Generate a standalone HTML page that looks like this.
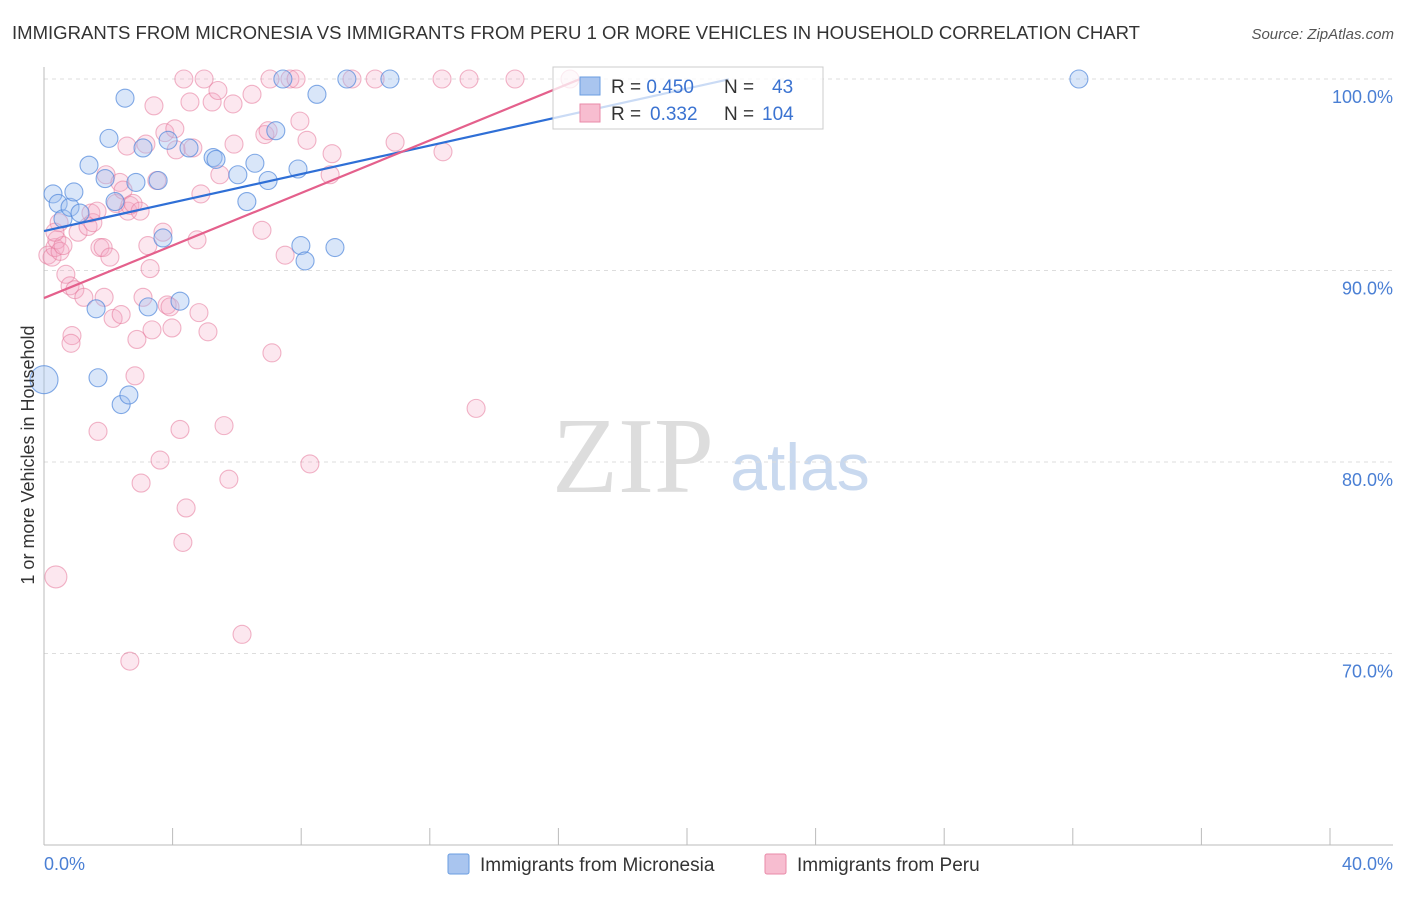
<!DOCTYPE html>
<html><head><meta charset="utf-8"><style>
body{margin:0;background:#fff;font-family:"Liberation Sans",sans-serif;}
svg text{font-family:"Liberation Sans",sans-serif;}
</style></head><body>
<svg id="chart" width="1406" height="892" xmlns="http://www.w3.org/2000/svg">
<text x="12" y="39" font-size="18" fill="#333" textLength="1128" lengthAdjust="spacingAndGlyphs">IMMIGRANTS FROM MICRONESIA VS IMMIGRANTS FROM PERU 1 OR MORE VEHICLES IN HOUSEHOLD CORRELATION CHART</text>
<text x="1394" y="39" font-size="15" fill="#555" font-style="italic" text-anchor="end">Source: ZipAtlas.com</text>
<text x="633" y="492" font-size="108" fill="#ddd" text-anchor="middle" style="font-family:'Liberation Serif',serif">ZIP</text>
<text x="800" y="490" font-size="66" fill="#c9d9ef" text-anchor="middle">atlas</text>
<g id="grid"></g><g id="axes"></g><g id="pts"></g><g id="trend"></g>
<text transform="translate(34,455) rotate(-90)" font-size="18" fill="#333" text-anchor="middle">1 or more Vehicles in Household</text>
<g>
<rect x="553" y="67" width="270" height="62" fill="rgba(255,255,255,0.75)" stroke="#ccc"/>
<rect x="580" y="77" width="20" height="18" fill="#a9c5ef" stroke="#6a9de0"/>
<rect x="580" y="104" width="20" height="18" fill="#f7bdd0" stroke="#e98aa8"/>
<text x="611" y="93" font-size="19" fill="#333">R = <tspan fill="#3b73d1">0.450</tspan><tspan x="724">N =</tspan><tspan fill="#3b73d1" x="772">43</tspan></text>
<text x="611" y="120" font-size="19" fill="#333">R = <tspan fill="#3b73d1" x="650">0.332</tspan><tspan x="724">N =</tspan><tspan fill="#3b73d1" x="762">104</tspan></text>
</g>
<g>
<rect x="448" y="854" width="21" height="20" fill="#a9c5ef" stroke="#6a9de0" rx="2"/>
<text x="480" y="871" font-size="19" fill="#333">Immigrants from Micronesia</text>
<rect x="765" y="854" width="21" height="20" fill="#f7bdd0" stroke="#e98aa8" rx="2"/>
<text x="797" y="871" font-size="19" fill="#333">Immigrants from Peru</text>
</g>
</svg>
<script>
const yTicks=[100,90,80,70];
const yTickLabels=["100.0%","90.0%","80.0%","70.0%"];
const xTickVals=[0,4,8,12,16,20,24,28,32,36,40];
const xEndLabels=["0.0%","40.0%"];
const blueX=[0,0.28,0.44,0.59,0.81,0.93,1.12,1.40,1.62,1.68,1.90,2.02,2.21,2.40,2.52,2.64,2.86,3.08,3.24,3.55,3.70,3.86,4.23,4.51,5.26,5.35,6.03,6.31,6.56,6.97,7.21,7.43,7.90,7.99,8.12,8.49,9.05,9.42,10.76,32.19];
const blueY=[84.3,94.0,93.5,92.7,93.3,94.1,93.0,95.5,88.0,84.4,94.8,96.9,93.6,83.0,99.0,83.5,94.6,96.4,88.1,94.7,91.7,96.8,88.4,96.4,95.9,95.8,95.0,93.6,95.6,94.7,97.3,100,95.3,91.3,90.5,99.2,91.2,100,100,100];
const pinkX=[0.37,0.12,0.25,0.34,0.40,0.50,0.59,0.47,0.34,0.68,0.81,0.87,0.84,0.96,1.06,1.24,1.37,1.46,1.52,1.65,1.68,1.74,1.84,1.87,1.93,2.05,2.15,2.24,2.36,2.40,2.46,2.58,2.61,2.67,2.67,2.77,2.83,2.89,2.99,3.02,3.08,3.17,3.23,3.30,3.36,3.42,3.51,3.61,3.70,3.76,3.83,3.92,3.98,4.07,4.11,4.23,4.32,4.42,4.35,4.54,4.63,4.76,4.82,4.88,4.98,5.10,5.23,5.41,5.47,5.60,5.75,5.88,5.91,6.16,6.47,6.78,6.87,6.97,7.03,7.09,7.50,7.65,7.84,7.96,8.18,8.27,8.90,8.96,9.58,10.30,10.92,12.38,12.41,13.22,13.44,14.65,16.36];
const pinkY=[74.0,90.8,90.7,91.2,91.6,91.0,91.3,92.5,92.0,89.8,89.2,86.6,86.2,89.0,92.0,88.6,92.3,93.0,92.5,93.1,81.6,91.2,91.2,88.6,95.0,90.7,87.5,93.5,94.6,87.7,94.2,96.5,93.1,93.4,69.6,93.5,84.5,86.4,93.1,78.9,88.6,96.6,91.3,90.1,86.9,98.6,94.7,80.1,92.0,97.2,88.2,88.1,87.0,97.4,96.3,81.7,75.8,77.6,100,98.8,96.4,91.6,87.8,94.0,100,86.8,98.8,99.4,95.0,81.9,79.1,98.7,96.6,71.0,99.2,92.1,97.1,97.3,100,85.7,90.8,100,100,97.8,96.8,79.9,95.0,96.1,100,100,96.7,100,96.2,100,82.8,100,100];
const trendIntercept=[92.06,88.56];
const trendSlope=[0.372,0.686];
const trendEnd=[21.3,16.7];

const NS="http://www.w3.org/2000/svg";
const X=v=>44+v*32.15;
const Y=v=>79+(100-v)*19.15;
function mk(tag,attrs,parent){const e=document.createElementNS(NS,tag);for(const k in attrs)e.setAttribute(k,attrs[k]);document.getElementById(parent).appendChild(e);return e;}
yTicks.forEach((t,i)=>{
  const l=mk('line',{x1:44,x2:1393,y1:Y(t),y2:Y(t),stroke:'#ddd','stroke-dasharray':'4,4'},'grid');
  
  
  const tx=mk('text',{x:1393,y:Y(t)+24,'font-size':18,fill:'#4a7fd4','text-anchor':'end'},'grid');
  tx.textContent=yTickLabels[i];
  
  
});
const ya=mk('line',{x1:44,x2:44,y1:67,y2:845,stroke:'#bbb'},'axes');


const xa=mk('line',{x1:44,x2:1393,y1:845,y2:845,stroke:'#bbb'},'axes');


xTickVals.forEach(v=>{
  const t=mk('line',{x1:X(v),x2:X(v),y1:828,y2:845,stroke:'#bbb'},'axes');
  
  
});
const xl0=mk('text',{x:44,y:870,'font-size':18,fill:'#4a7fd4'},'axes');
xl0.textContent=xEndLabels[0];


const xl1=mk('text',{x:1393,y:870,'font-size':18,fill:'#4a7fd4','text-anchor':'end'},'axes');
xl1.textContent=xEndLabels[1];


pinkX.forEach((v,i)=>{
  const big=(i===0);
  const c=mk('circle',{cx:X(v),cy:Y(pinkY[i]),r:big?11:9,fill:'rgba(246,170,196,0.28)',stroke:'rgba(230,120,155,0.55)','stroke-width':1.1},'pts');
  
  
});
blueX.forEach((v,i)=>{
  const big=(i===0);
  const c=mk('circle',{cx:X(v),cy:Y(blueY[i]),r:big?14:9,fill:'rgba(160,192,240,0.4)',stroke:'rgba(80,135,220,0.7)','stroke-width':1.1},'pts');
  
  
});
const colors=['#2f6fd6','#e4608c'];
[0,1].forEach(i=>{
  const l=mk('line',{x1:X(0),y1:Y(trendIntercept[i]),x2:X(trendEnd[i]),y2:Y(trendIntercept[i]+trendSlope[i]*trendEnd[i]),stroke:colors[i],'stroke-width':2.2},'trend');
  
  
});
</script>
</body></html>
